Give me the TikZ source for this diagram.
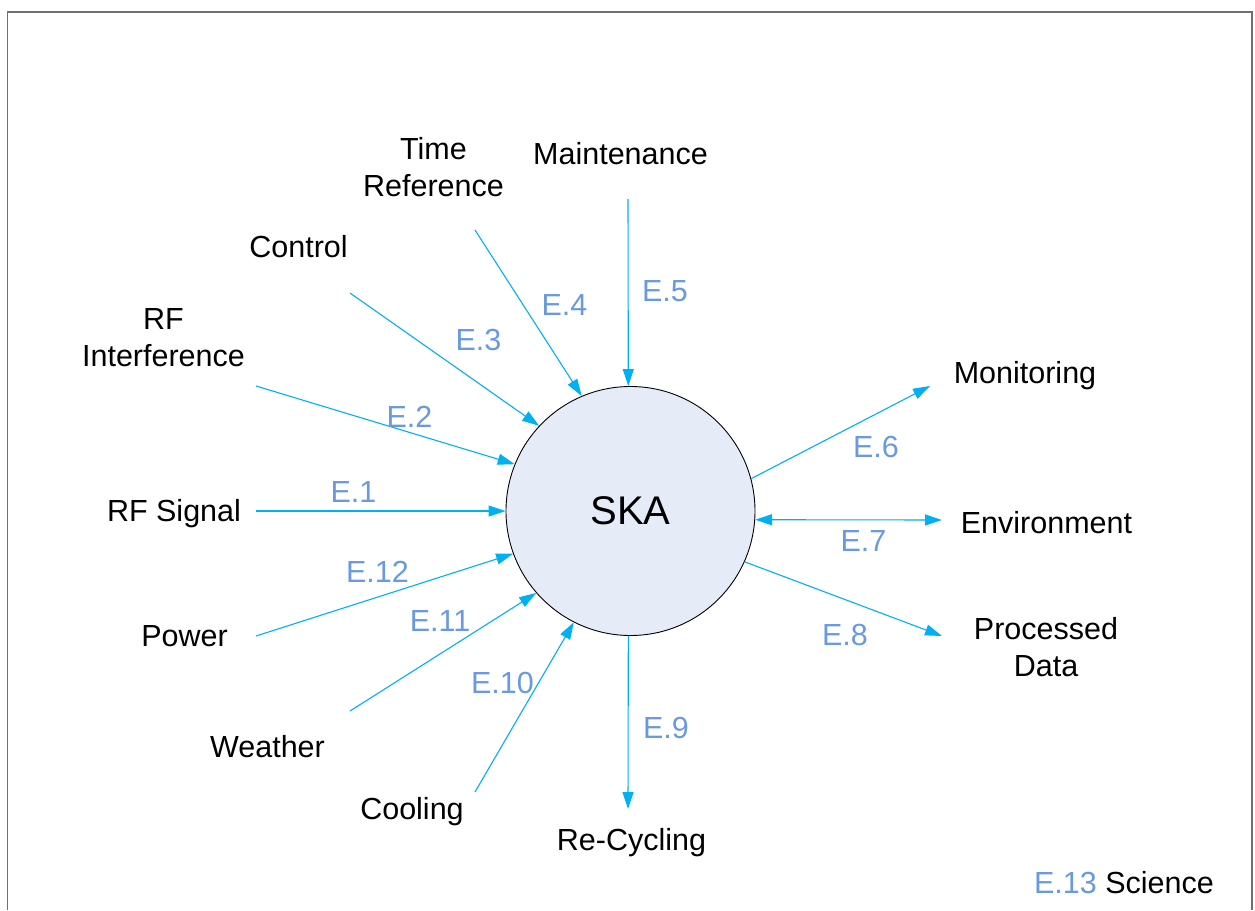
\documentclass[tikz,border=0pt]{standalone}
\usepackage{fontspec}
\setmainfont{Liberation Sans}
\usetikzlibrary{arrows.meta}
\definecolor{flow}{RGB}{0,176,240}
\definecolor{elabel}{RGB}{105,153,222}
\definecolor{skafill}{RGB}{230,236,247}
\definecolor{framegray}{RGB}{112,112,112}
\begin{document}
\begin{tikzpicture}[x=1pt,y=-1pt,
  ext/.style={font=\fontsize{30.5}{37}\selectfont, anchor=base, inner sep=0pt, align=center},
  elab/.style={font=\fontsize{30.5}{37}\selectfont, text=elabel, anchor=base, inner sep=0pt},
  flowline/.style={draw=flow, line width=1.1pt, -{Triangle[length=17pt,width=11pt]}},
  sysnode/.style={circle, draw=black, line width=0.9pt, fill=skafill, minimum size=249pt,
    inner sep=0pt, font=\fontsize{40}{48}\selectfont}]

% page area
\useasboundingbox (0,0) rectangle (1255,910);

% outer frame, open at the bottom
\draw[framegray, line width=1.2pt] (7.5,910) -- (7.5,12) -- (1252,12);
\draw[framegray, line width=2.2pt] (1252,11) -- (1252,910);

% central system
\node[sysnode] (ska) at (630.5,511) {SKA};

% external entities (two-line nodes sit on the baseline of their last line)
\node[ext] (timeref)  at (433.5,196) {Time\\Reference};
\node[ext] (maint)    at (620.5,164) {Maintenance};
\node[ext] (control)  at (298.5,257) {Control};
\node[ext] (rfi)      at (163.5,366) {RF\\Interference};
\node[ext] (rfsig)    at (174,521) {RF Signal};
\node[ext] (power)    at (184.5,646) {Power};
\node[ext] (weather)  at (267.5,757) {Weather};
\node[ext] (cooling)  at (412,819) {Cooling};
\node[ext] (recyc)    at (631.5,850) {Re-Cycling};
\node[ext] (monit)    at (1025,383) {Monitoring};
\node[ext] (envir)    at (1046.5,533) {Environment};
\node[ext] (procdata) at (1046,676) {Processed\\Data};
\node[ext, anchor=base east] (science) at (1214,893) {\textcolor{elabel}{E.13} Science};

% free ends of the interfaces
\coordinate (c1)  at (256,511);
\coordinate (c2)  at (256,386);
\coordinate (c3)  at (350,293);
\coordinate (c4)  at (475,230);
\coordinate (c5)  at (628,199);
\coordinate (c6)  at (930,386);
\coordinate (c7)  at (942,520);
\coordinate (c8)  at (942,636);
\coordinate (c9)  at (628,809);
\coordinate (c10) at (475,792);
\coordinate (c11) at (350,711);
\coordinate (c12) at (256,636);

% interfaces
\draw[flowline] (c1)  -- (ska.180);
\draw[flowline] (c2)  -- (ska.158.4);
\draw[flowline] (c3)  -- (ska.137.3);
\draw[flowline] (c4)  -- (ska.113.8);
\draw[flowline] (c5)  -- (ska.91);
\draw[flowline] (ska.15) -- (c6);
\draw[flowline, {Triangle[length=17pt,width=11pt]}-{Triangle[length=17pt,width=11pt]}] (ska.-4) -- (c7);
\draw[flowline] (ska.-24.3) -- (c8);
\draw[flowline] (ska.269) -- (c9);
\draw[flowline] (c10) -- (ska.243);
\draw[flowline] (c11) -- (ska.221.1);
\draw[flowline] (c12) -- (ska.200.8);

% interface labels
\node[elab] (l1)  at (353.5,502) {E.1};
\node[elab] (l2)  at (409.5,427) {E.2};
\node[elab] (l3)  at (478.5,350) {E.3};
\node[elab] (l4)  at (564.5,315) {E.4};
\node[elab] (l5)  at (665,301)   {E.5};
\node[elab] (l6)  at (876,457)   {E.6};
\node[elab] (l7)  at (863.5,551) {E.7};
\node[elab] (l8)  at (845,645)   {E.8};
\node[elab] (l9)  at (666,738)   {E.9};
\node[elab] (l10) at (502.5,693) {E.10};
\node[elab] (l11) at (440,631)   {E.11};
\node[elab] (l12) at (377.5,582) {E.12};
\end{tikzpicture}
\end{document}
